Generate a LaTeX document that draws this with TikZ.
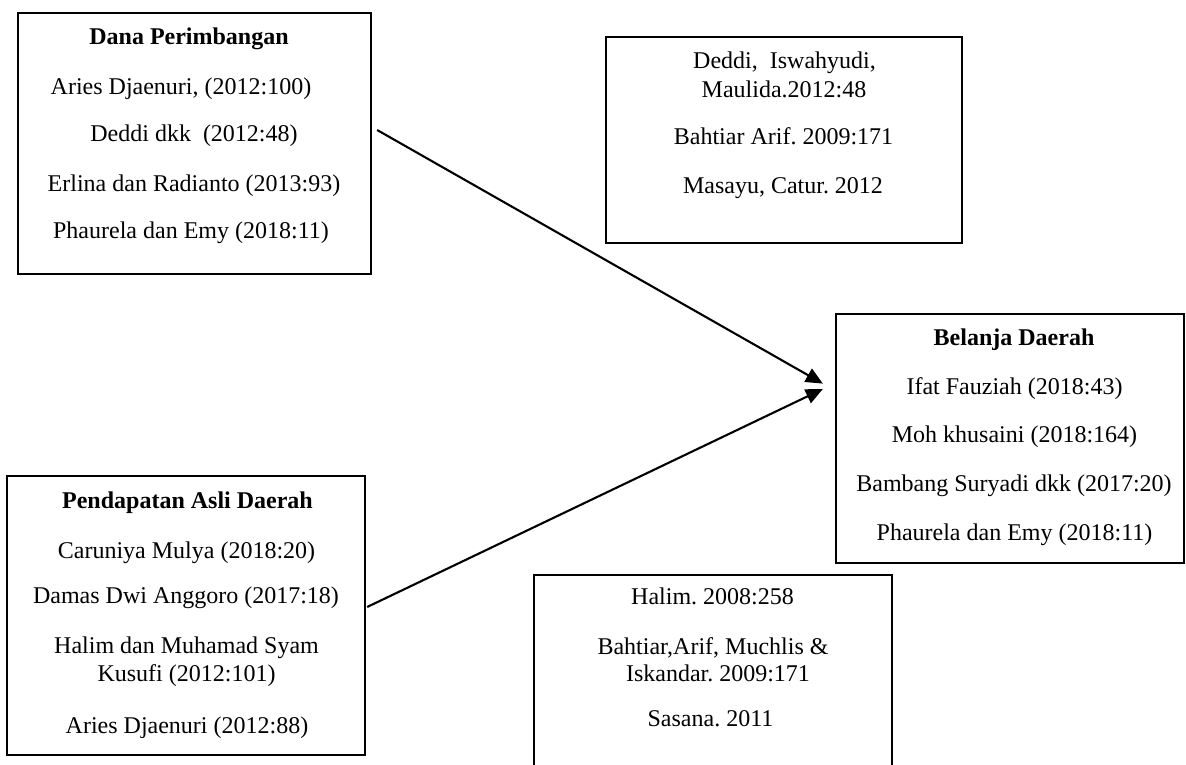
\documentclass[tikz,border=0pt]{standalone}
\usepackage{fontspec}
\setmainfont{Liberation Serif}
\usetikzlibrary{calc,arrows.meta}
\frenchspacing
\begin{document}
\begin{tikzpicture}[x=0.5pt,y=-0.5pt,
  box/.style={draw=black,line width=1.15pt,inner sep=0pt},
  txt/.style={inner sep=0pt,font=\fontsize{12}{14}\selectfont,text height=9pt,text depth=2.5pt},
  ttl/.style={txt,font=\fontsize{12}{14}\selectfont\bfseries},
  conn/.style={line width=1.05pt,-{Triangle[length=8.5pt,width=7.5pt]}}]
\useasboundingbox (0,0) rectangle (1186,764);

% boxes
\node[box,minimum width=176.5pt,minimum height=130.5pt] (A) at (194.5,143.5) {};
\node[box,minimum width=178pt,minimum height=103pt] (B) at (784,140) {};
\node[box,minimum width=174pt,minimum height=124.5pt] (C) at (1010,438.5) {};
\node[box,minimum width=179pt,minimum height=139.5pt] (D) at (186,615.5) {};
\node[box,minimum width=179pt,minimum height=120pt] (E) at (713,695) {};

% box A texts
\node[ttl] (a0) at (189,38) {Dana Perimbangan};
\node[txt] (a1) at (181,88) {Aries Djaenuri, (2012:100)};
\node[txt] (a2) at (194,135) {Deddi dkk~ (2012:48)};
\node[txt] (a3) at (194,185) {Erlina dan Radianto (2013:93)};
\node[txt] (a4) at (191,232) {Phaurela dan Emy (2018:11)};

% box B texts
\node[txt] (b1) at (784.5,62) {Deddi,~ Iswahyudi,};
\node[txt] (b2) at (784,91) {Maulida.2012:48};
\node[txt] (b3) at (783.5,138) {Bahtiar Arif. 2009:171};
\node[txt] (b4) at (783,187) {Masayu, Catur. 2012};

% box C texts
\node[ttl] (c0) at (1014,339) {Belanja Daerah};
\node[txt] (c1) at (1014.5,388) {Ifat Fauziah (2018:43)};
\node[txt] (c2) at (1014.5,436) {Moh khusaini (2018:164)};
\node[txt] (c3) at (1014,485) {Bambang Suryadi dkk (2017:20)};
\node[txt] (c4) at (1014.5,534) {Phaurela dan Emy (2018:11)};

% box D texts
\node[ttl] (d0) at (187.5,502) {Pendapatan Asli Daerah};
\node[txt] (d1) at (186.5,552) {Caruniya Mulya (2018:20)};
\node[txt] (d2) at (186,597) {Damas Dwi Anggoro (2017:18)};
\node[txt] (d3) at (186.5,647) {Halim dan Muhamad Syam};
\node[txt] (d4) at (186.5,675) {Kusufi (2012:101)};
\node[txt] (d5) at (187,727) {Aries Djaenuri (2012:88)};

% box E texts
\node[txt] (e1) at (712.5,598) {Halim. 2008:258};
\node[txt] (e2) at (713,648) {Bahtiar,Arif, Muchlis \&};
\node[txt] (e3) at (718,675) {Iskandar. 2009:171};
\node[txt] (e4) at (710.5,720) {Sasana. 2011};

% connectors
\draw[conn] ($(A.east)+(5,-13.5)$) -- ($(C.west)+(-12,-54.9)$);
\draw[conn] ($(D.east)+(1,-8.5)$) -- ($(C.west)+(-12,-49.5)$);
\end{tikzpicture}
\end{document}
